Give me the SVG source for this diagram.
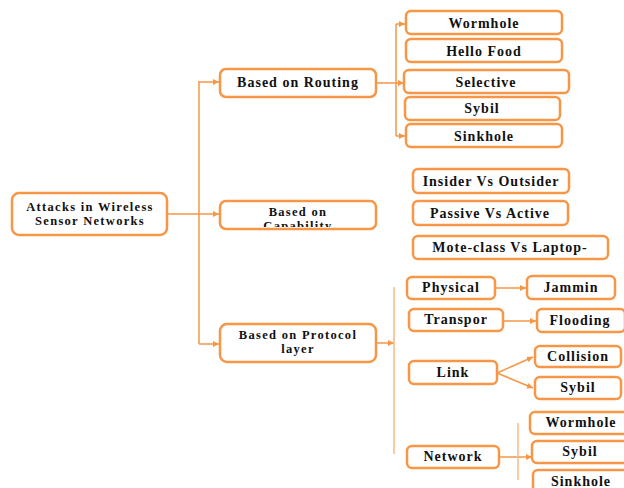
<svg xmlns="http://www.w3.org/2000/svg" width="624" height="488" viewBox="0 0 624 488">
<defs>
<style>
.box{fill:#fff;stroke:#F79646;stroke-width:2.5}
.ln{fill:none;stroke:#F79646;stroke-width:1.5}
.lt{fill:none;stroke:#F9B98A;stroke-width:1.5}
.t{font-weight:bold;font-size:14px;fill:#111;text-anchor:middle;letter-spacing:1px}
.t2{font-size:12.5px;letter-spacing:1.3px}
</style>
<marker id="ah" viewBox="0 0 10 10" refX="10" refY="5" markerWidth="6" markerHeight="6" orient="auto" markerUnits="userSpaceOnUse">
<path d="M0,0 L10,5 L0,10 z" fill="#F79646"/>
</marker>
<clipPath id="capclip"><rect x="220" y="201" width="156" height="26"/></clipPath>
</defs>
<g id="connectors">
<path class="ln" d="M167,214 H219" marker-end="url(#ah)"/>
<path class="ln" d="M199,81 V344"/>
<path class="ln" d="M199,82 H219" marker-end="url(#ah)"/>
<path class="ln" d="M199,344 H219" marker-end="url(#ah)"/>
<path class="ln" d="M376,83 H404" marker-end="url(#ah)"/>
<path class="ln" d="M396,24 V136"/>
<path class="ln" d="M396,24 H405" marker-end="url(#ah)"/>
<path class="ln" d="M396,136 H405" marker-end="url(#ah)"/>
<path class="ln" d="M376,343 H394" marker-end="url(#ah)"/>
<path class="lt" d="M394,287 V454"/>
<path class="ln" d="M495,288 H526" marker-end="url(#ah)"/>
<path class="ln" d="M503,321 H536" marker-end="url(#ah)"/>
<path class="ln" d="M497,373 L533,357" marker-end="url(#ah)"/>
<path class="ln" d="M497,373 L533,388" marker-end="url(#ah)"/>
<path class="ln" d="M499,457 H532" marker-end="url(#ah)"/>
<path class="lt" d="M518,423 V480"/>
</g>
<g font-family="Liberation Serif, Times New Roman, DejaVu Serif, serif" class="t">
<g id="root"><rect class="box" x="12" y="193" width="155" height="42" rx="7"/><text class="t2" x="90" y="211">Attacks in Wireless</text><text class="t2" x="90" y="225">Sensor Networks</text></g>
<g id="routing"><rect class="box" x="220" y="69" width="156" height="28" rx="6"/><text x="298" y="87">Based on Routing</text></g>
<g id="capability"><rect class="box" x="220" y="201" width="156" height="28" rx="6"/><text class="t2" x="298" y="216">Based on</text><text class="t2" x="298" y="230" clip-path="url(#capclip)">Capability</text></g>
<g id="protocol"><rect class="box" x="220" y="324" width="156" height="38" rx="7"/><text class="t2" x="298" y="339">Based on Protocol</text><text class="t2" x="298" y="353">layer</text></g>
<g id="r-wormhole"><rect class="box" x="406" y="11" width="156" height="23" rx="5"/><text x="484" y="28">Wormhole</text></g>
<g id="r-hello"><rect class="box" x="406" y="39" width="156" height="23" rx="5"/><text x="484" y="56">Hello Food</text></g>
<g id="r-selective"><rect class="box" x="404" y="70" width="165" height="23" rx="5"/><text x="486" y="87">Selective</text></g>
<g id="r-sybil"><rect class="box" x="405" y="97" width="155" height="23" rx="5"/><text x="482" y="113">Sybil</text></g>
<g id="r-sinkhole"><rect class="box" x="406" y="124" width="156" height="23" rx="5"/><text x="484" y="141">Sinkhole</text></g>
<g id="c-insider"><rect class="box" x="413" y="169" width="156" height="24" rx="5"/><text x="491" y="186">Insider Vs Outsider</text></g>
<g id="c-passive"><rect class="box" x="413" y="201" width="155" height="24" rx="5"/><text x="490" y="218">Passive Vs Active</text></g>
<g id="c-mote"><rect class="box" x="413" y="236" width="195" height="23" rx="5"/><text x="510" y="252">Mote-class Vs Laptop-</text></g>
<g id="p-physical"><rect class="box" x="407" y="277" width="88" height="22" rx="5"/><text x="451" y="292">Physical</text></g>
<g id="p-jammin"><rect class="box" x="527" y="276" width="88" height="23" rx="5"/><text x="571" y="292">Jammin</text></g>
<g id="p-transpor"><rect class="box" x="409" y="309" width="94" height="22" rx="5"/><text x="456" y="324">Transpor</text></g>
<g id="p-flooding"><rect class="box" x="537" y="309" width="88" height="23" rx="5"/><text x="580" y="325">Flooding</text></g>
<g id="p-link"><rect class="box" x="409" y="361" width="88" height="23" rx="5"/><text x="453" y="377">Link</text></g>
<g id="p-collision"><rect class="box" x="535" y="346" width="86" height="21" rx="5"/><text x="578" y="361">Collision</text></g>
<g id="p-sybil"><rect class="box" x="535" y="377" width="86" height="22" rx="5"/><text x="578" y="392">Sybil</text></g>
<g id="p-network"><rect class="box" x="407" y="446" width="92" height="22" rx="5"/><text x="453" y="461">Network</text></g>
<g id="n-wormhole"><rect class="box" x="530" y="412" width="100" height="22" rx="5"/><text x="581" y="427">Wormhole</text></g>
<g id="n-sybil"><rect class="box" x="532" y="441" width="100" height="22" rx="5"/><text x="580" y="456">Sybil</text></g>
<g id="n-sinkhole"><rect class="box" x="533" y="470" width="100" height="26" rx="5"/><text x="581" y="486">Sinkhole</text></g>
</g>
</svg>
